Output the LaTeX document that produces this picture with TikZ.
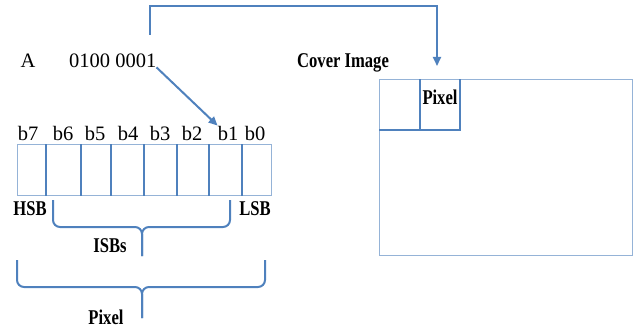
\documentclass[tikz,border=0pt]{standalone}
\usepackage{fontspec}
\setmainfont{Liberation Serif}
\newfontfamily\condbf{Liberation Serif}[FakeStretch=0.79]
\usetikzlibrary{arrows.meta}
\definecolor{lineblue}{RGB}{79,129,189}
\definecolor{lightblue}{RGB}{149,179,215}
\begin{document}
\begin{tikzpicture}[x=1pt,y=-1pt,
  reg/.style={font=\fontsize{20.5}{24}\selectfont, inner sep=0pt},
  bld/.style={font=\condbf\bfseries\fontsize{21}{25}\selectfont, inner sep=0pt},
  thinbox/.style={draw=lightblue, line width=1pt},
  thickline/.style={draw=lineblue, line width=2pt},
  conn/.style={draw=lineblue, line width=2pt, -{Triangle[length=9pt,width=8pt]}},
  bracestyle/.style={draw=lineblue, line width=2pt, rounded corners=7pt}]
\useasboundingbox (0,0) rectangle (637,329);
% character and binary code
\node[reg, anchor=base] (A) at (28,67) {A};
\node[reg, anchor=base west] (bin) at (69,67) {0100 0001};
% bit labels
\foreach \x/\n in {28/7,63/6,95/5,128/4,160/3,192/2,228/1,255/0}
  \node[reg, anchor=base] (b\n) at (\x,140) {b\n};
% bit cells
\draw[thinbox] (17,144) rectangle (271,195);
\foreach \x in {46,81,111,144,177,209,242}
  \draw[thickline] (\x,144) -- (\x,196);
% bit group labels
\node[bld, anchor=base] (hsb) at (30,215) {HSB};
\node[bld, anchor=base] (lsb) at (255,215) {LSB};
\node[bld, anchor=base] (isbs) at (110,252) {ISBs};
\node[bld, anchor=base] (pixlab) at (106,324) {Pixel};
% braces
\draw[bracestyle] (53,200) -- (53,227) -- (142,227) -- (142,256);
\draw[bracestyle] (230,200) -- (230,227) -- (142,227) -- (142,256);
\draw[bracestyle] (17,260) -- (17,287) -- (142,287) -- (142,318);
\draw[bracestyle] (265,260) -- (265,287) -- (142,287) -- (142,318);
% cover image
\node[bld, anchor=base west] (cover) at (297,67) {Cover Image};
\draw[thinbox] (379,79) rectangle (632,255);
\draw[thickline] (379,130) -- (460,130) -- (460,79);
\draw[thickline] (420,79) -- (420,130);
\node[bld, anchor=base] (cellpix) at (440,104) {Pixel};
% connectors
\coordinate (topstart) at (150,35);
\coordinate (cvtop) at (437,66);
\draw[conn] (topstart) |- (437,6) -- (cvtop);
\draw[conn] (bin.south east) -- (b1.north west);
\end{tikzpicture}
\end{document}
